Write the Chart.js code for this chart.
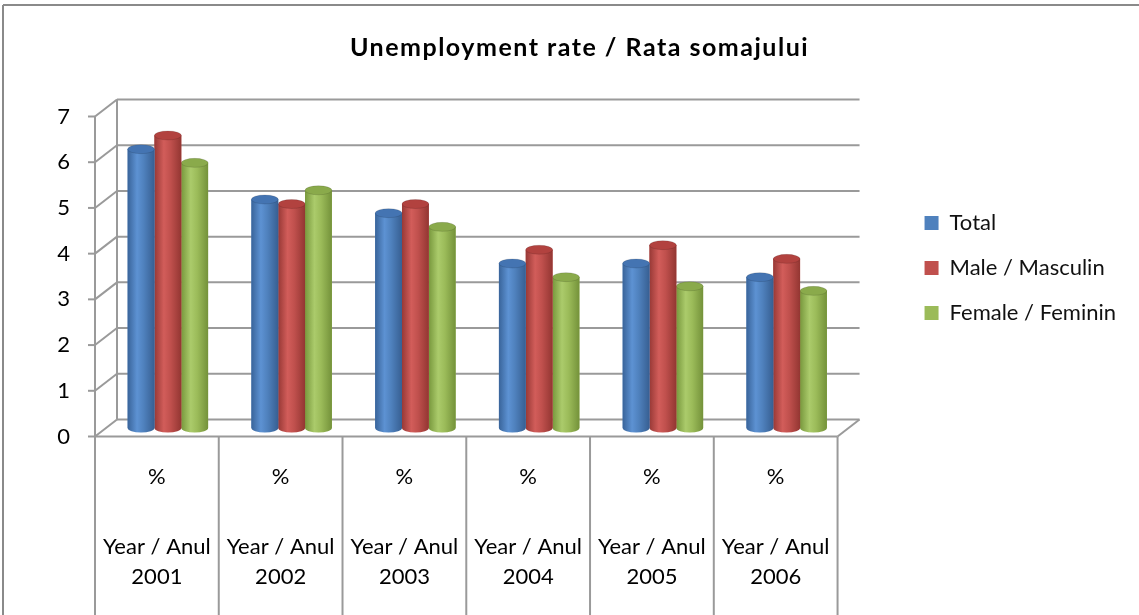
<!DOCTYPE html>
<html>
<head>
<meta charset="utf-8">
<script src="https://cdn.jsdelivr.net/npm/chart.js@4.4.1/dist/chart.umd.min.js"></script>
<style>
  html, body { margin: 0; padding: 0; background: #fff; }
</style>
</head>
<body>
<canvas id="chart" width="1139" height="615"></canvas>
<script>
// chart data
const years = ['2001', '2002', '2003', '2004', '2005', '2006'];
const unitLabels = ['%', '%', '%', '%', '%', '%'];
const yearPrefix = 'Year / Anul';
const seriesNames = ['Total', 'Male / Masculin', 'Female / Feminin'];
const totalRate = [6.1, 5.0, 4.7, 3.6, 3.6, 3.3];
const maleRate = [6.4, 4.9, 4.9, 3.9, 4.0, 3.7];
const femaleRate = [5.8, 5.2, 4.4, 3.3, 3.1, 3.0];
const yTicks = [0, 1, 2, 3, 4, 5, 6, 7];

// cylinder colours: flat, left edge, highlight, right edge, top cap
const palette = [
  ['#4f81bd', '#39649a', '#5d92d3', '#375f92', '#4474b2'],
  ['#c0504d', '#983936', '#d25d5a', '#933632', '#b2423f'],
  ['#9bbb59', '#78983d', '#abcb6b', '#74923a', '#8aaa4b']
];

// depth offset of the 3d box (front is -DX,+DY of the bars, back wall +DX,-DY)
const DX = 11, DY = 8.5;
const lineCol = '#9a9a9a';

const line = (ctx, x1, y1, x2, y2) => {
  ctx.beginPath();
  ctx.moveTo(x1, y1);
  ctx.lineTo(x2, y2);
  ctx.stroke();
};

// walls, floor, front axis and category dividers
const frame3d = {
  id: 'frame3d',
  afterInit(chart) {
    // the title in the original is spaced out a bit
    const tb = chart.titleBlock;
    const draw = tb.draw.bind(tb);
    tb.draw = (area) => {
      chart.ctx.letterSpacing = '1.5px';
      draw(area);
      chart.ctx.letterSpacing = '0px';
    };
  },
  beforeDatasetsDraw(chart) {
    const { ctx, chartArea: ca, scales: { x, y } } = chart;
    ctx.save();
    ctx.lineWidth = 2;
    ctx.strokeStyle = lineCol;
    yTicks.forEach(v => {
      const py = y.getPixelForValue(v);
      line(ctx, ca.left + DX, py - DY, ca.right + DX, py - DY);
      line(ctx, ca.left - DX, py + DY, ca.left + DX, py - DY);
      line(ctx, ca.left - DX - 7, py + DY, ca.left - DX, py + DY);
    });
    const top = y.getPixelForValue(7), zero = y.getPixelForValue(0);
    line(ctx, ca.left + DX, top - DY, ca.left + DX, zero - DY);
    line(ctx, ca.left - DX, top + DY, ca.left - DX, zero + DY);
    // floor front edge and right corner
    line(ctx, ca.left - DX, zero + DY, ca.right - DX, zero + DY);
    line(ctx, ca.right - DX, zero + DY, ca.right + DX, zero - DY);
    // category dividers under the floor
    const step = x.getPixelForValue(1) - x.getPixelForValue(0);
    for (let i = 0; i <= years.length; i++) {
      const px = x.getPixelForValue(i) - step / 2 - DX;
      line(ctx, px, zero + DY, px, chart.height);
    }
    // outer frame
    ctx.strokeStyle = '#8a8a8a';
    line(ctx, 3, 5, chart.width, 5);
    line(ctx, 3, 5, 3, chart.height);
    ctx.restore();
  }
};

// turns the flat bars into shaded cylinders
const cylinders = {
  id: 'cylinders',
  afterDatasetDraw(chart, args) {
    const ctx = chart.ctx;
    const c = palette[args.index];
    ctx.save();
    args.meta.data.forEach(bar => {
      const { x, y, base, width } = bar.getProps(['x', 'y', 'base', 'width'], true);
      const hw = width / 2, ry = 4.5;
      const g = ctx.createLinearGradient(x - hw, 0, x + hw, 0);
      g.addColorStop(0, c[1]);
      g.addColorStop(0.35, c[2]);
      g.addColorStop(0.6, c[0]);
      g.addColorStop(1, c[3]);
      ctx.fillStyle = g;
      ctx.beginPath();
      ctx.moveTo(x - hw, y);
      ctx.lineTo(x - hw, base);
      ctx.ellipse(x, base, hw, ry, 0, Math.PI, 0, true);
      ctx.lineTo(x + hw, y);
      ctx.closePath();
      ctx.fill();
      ctx.beginPath();
      ctx.ellipse(x, y, hw, ry, 0, 0, Math.PI * 2);
      ctx.fillStyle = c[4];
      ctx.fill();
      ctx.strokeStyle = 'rgba(0,0,0,0.12)';
      ctx.lineWidth = 1;
      ctx.stroke();
    });
    ctx.restore();
  }
};

const mkSet = (label, data, i) => ({
  label: label,
  data: data,
  backgroundColor: palette[i][0],
  borderWidth: 0,
  categoryPercentage: 0.65,
  barPercentage: 1.0
});

new Chart(document.getElementById('chart'), {
  type: 'bar',
  data: {
    labels: unitLabels,
    datasets: [
      mkSet(seriesNames[0], totalRate, 0),
      mkSet(seriesNames[1], maleRate, 1),
      mkSet(seriesNames[2], femaleRate, 2)
    ]
  },
  plugins: [frame3d, cylinders],
  options: {
    responsive: false,
    animation: false,
    layout: { padding: { left: 33, right: 13, top: 0, bottom: 0 } },
    plugins: {
      tooltip: { enabled: false },
      title: {
        display: true,
        text: 'Unemployment rate / Rata somajului',
        color: '#000',
        font: { family: 'Lato', size: 25, weight: 'bold' },
        padding: { top: 33, bottom: 45 }
      },
      legend: {
        position: 'right',
        align: 'center',
        fullSize: false,
        labels: {
          boxWidth: 14,
          boxHeight: 14,
          padding: 23,
          color: '#111',
          font: { family: 'Lato', size: 22 }
        }
      }
    },
    scales: {
      y: {
        min: 0,
        max: 7,
        grid: { display: false, drawTicks: false },
        border: { display: false },
        ticks: {
          stepSize: 1,
          padding: 36,
          labelOffset: DY,
          color: '#000',
          font: { family: 'Lato', size: 22 }
        },
        afterFit(s) { s.width = 73; }
      },
      // empty spacer between the plot and the legend
      yR: {
        position: 'right',
        display: false,
        afterFit(s) { s.width = 53; }
      },
      x: {
        weight: 0,
        offset: true,
        grid: { display: false, drawTicks: false },
        border: { display: false },
        ticks: {
          padding: 36,
          labelOffset: -DX,
          maxRotation: 0,
          autoSkip: false,
          color: '#000',
          font: { family: 'Lato', size: 22 }
        },
        afterFit(s) { s.height = 60; }
      },
      x2: {
        type: 'category',
        position: 'bottom',
        weight: 1,
        offset: true,
        labels: years.map(yr => [yearPrefix, yr]),
        grid: { display: false, drawTicks: false },
        border: { display: false },
        ticks: {
          padding: 44,
          labelOffset: -DX,
          maxRotation: 0,
          autoSkip: false,
          color: '#000',
          font: { family: 'Lato', size: 22, lineHeight: 30 / 22 }
        },
        afterFit(s) { s.height = 127; }
      }
    }
  }
});
</script>
</body>
</html>
